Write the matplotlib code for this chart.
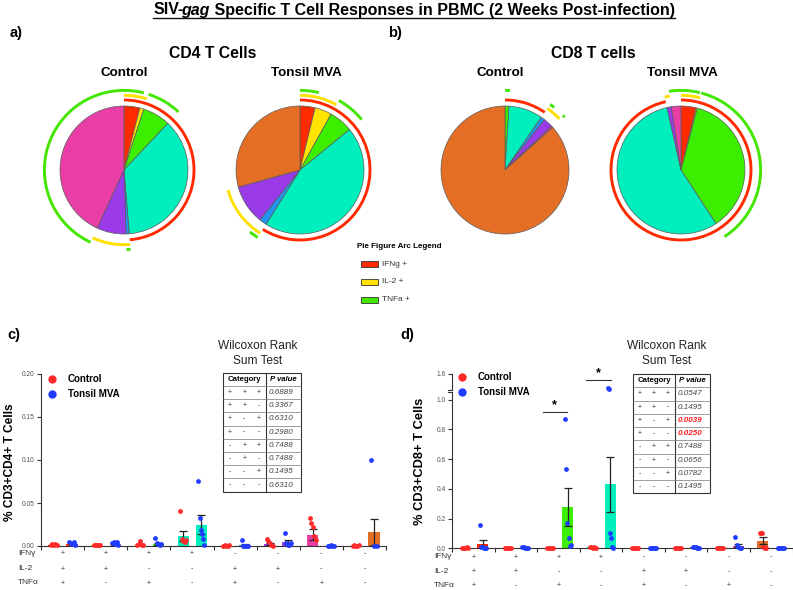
import numpy as np
import matplotlib
matplotlib.use("Agg")
import matplotlib.pyplot as plt
from matplotlib.patches import Arc, Rectangle

plt.rcParams['font.family'] = ['Liberation Sans', 'DejaVu Sans']

W, H = 793, 590

# cytokine categories (order used by pies, bars and tables)
ifng = ["+", "+", "+", "+", "-", "-", "-", "-"]
il2 = ["+", "+", "-", "-", "+", "+", "-", "-"]
tnfa = ["+", "-", "+", "-", "+", "-", "+", "-"]
cat_colors = ["#ff2a00", "#ffe400", "#3cee00", "#00efbc", "#2196f0", "#9a3ae8", "#e83ea6", "#e56e25"]

# pie fractions (% of response)
cd4_control = [4.0, 1.0, 7.0, 36.7, 0.8, 7.4, 43.1, 0.0]
cd4_tonsil = [3.8, 4.3, 6.0, 44.8, 1.9, 9.9, 0.0, 29.3]
cd8_control = [0.0, 0.0, 1.0, 8.6, 1.0, 2.4, 0.4, 86.6]
cd8_tonsil = [3.8, 0.3, 36.7, 55.7, 0.0, 1.1, 2.4, 0.0]

arc_colors = ["#ff2a00", "#ffe000", "#44e600"]
arc_labels = ["IFNg +", "IL-2 +", "TNFa +"]

# panel c: CD4 (% CD3+CD4+)
c_ctrl_mean = [0.0015, 0.0010, 0.0015, 0.0112, 0.0005, 0.0020, 0.0132, 0.0005]
c_ctrl_sem = [0.0003, 0.0002, 0.0008, 0.0057, 0.0002, 0.0012, 0.0060, 0.0002]
c_tons_mean = [0.0025, 0.0020, 0.0025, 0.0250, 0.0010, 0.0047, 0.0005, 0.0163]
c_tons_sem = [0.0007, 0.0008, 0.0015, 0.0105, 0.0008, 0.0028, 0.0002, 0.0150]
c_ctrl_pts = [
    [0.001, 0.002, 0.0015, 0.002, 0.001],
    [0.001, 0.0012, 0.0008, 0.001, 0.0012],
    [0.001, 0.002, 0.0055, 0.0015, 0.0008],
    [0.041, 0.0085, 0.006, 0.005, 0.007],
    [0.0005, 0.0006, 0.0004, 0.0005, 0.0006],
    [0.0085, 0.006, 0.003, 0.001, 0.0005],
    [0.033, 0.027, 0.022, 0.012, 0.0074],
    [0.0005, 0.0006, 0.0004, 0.0005, 0.0006],
]
c_tons_pts = [
    [0.0047, 0.003, 0.002, 0.0045, 0.001],
    [0.004, 0.0045, 0.002, 0.005, 0.001],
    [0.009, 0.003, 0.002, 0.001, 0.002],
    [0.076, 0.032, 0.019, 0.014, 0.0085, 0.001],
    [0.0066, 0.0005, 0.0005, 0.0004, 0.0005],
    [0.0155, 0.003, 0.0015, 0.001, 0.003],
    [0.0005, 0.0004, 0.0006, 0.0005, 0.0005],
    [0.0996, 0.0005, 0.0005],
]
c_pvals = ["0.6889", "0.3367", "0.6310", "0.2980", "0.7488", "0.7488", "0.1495", "0.6310"]

# panel d: CD8 (% CD3+CD8+)
d_ctrl_mean = [0.004, 0.003, 0.003, 0.008, 0.002, 0.002, 0.002, 0.050]
d_ctrl_sem = [0.001, 0.001, 0.001, 0.003, 0.0005, 0.0005, 0.0005, 0.024]
d_tons_mean = [0.027, 0.006, 0.280, 0.430, 0.002, 0.006, 0.018, 0.002]
d_tons_sem = [0.028, 0.003, 0.127, 0.185, 0.0005, 0.003, 0.012, 0.0005]
d_ctrl_pts = [
    [0.003, 0.005, 0.004, 0.006, 0.002],
    [0.002, 0.003, 0.004, 0.002, 0.003],
    [0.002, 0.003, 0.004, 0.002, 0.003],
    [0.011, 0.012, 0.005, 0.008, 0.004],
    [0.002, 0.002, 0.003, 0.002, 0.001],
    [0.002, 0.002, 0.003, 0.002, 0.001],
    [0.002, 0.002, 0.003, 0.002, 0.001],
    [0.1, 0.1, 0.1, 0.011, 0.005, 0.005],
]
d_tons_pts = [
    [0.157, 0.01, 0.006, 0.004, 0.003, 0.002],
    [0.011, 0.008, 0.005, 0.003, 0.002],
    [0.872, 0.537, 0.168, 0.067, 0.016, 0.02],
    [1.17, 1.12, 0.105, 0.067, 0.011, 0.005],
    [0.002, 0.002, 0.003, 0.002, 0.001],
    [0.012, 0.01, 0.006, 0.003, 0.002],
    [0.074, 0.022, 0.012, 0.005, 0.003],
    [0.002, 0.002, 0.003, 0.002, 0.001],
]
d_pvals = ["0.0547", "0.1495", "0.0039", "0.0250", "0.7488", "0.0656", "0.0782", "0.1495"]

fig = plt.figure(figsize=(W / 100, H / 100), dpi=100)


def px_axes(x0, y0, x1, y1):
    return fig.add_axes([x0 / W, 1 - y1 / H, (x1 - x0) / W, (y1 - y0) / H])


def draw_pie(cx, cy, fracs):
    ax = px_axes(cx - 90, cy - 90, cx + 90, cy + 90)
    keep = [i for i, f in enumerate(fracs) if f > 0]
    ax.pie([fracs[i] for i in keep], colors=[cat_colors[i] for i in keep], radius=64,
           startangle=90, counterclock=False,
           wedgeprops=dict(edgecolor="#5a5a5a", linewidth=0.5))
    ax.set_xlim(-90, 90)
    ax.set_ylim(-90, 90)
    ax.set_aspect("equal")
    ax.axis("off")
    cum = np.concatenate([[0], np.cumsum(fracs)]) / np.sum(fracs) * 360
    for ring, signs in enumerate([ifng, il2, tnfa]):
        r = [70, 74.7, 79.6][ring]
        segs = []
        for i in range(8):
            if signs[i] == "+" and fracs[i] > 0:
                if segs and abs(segs[-1][1] - cum[i]) < 1e-6:
                    segs[-1][1] = cum[i + 1]
                else:
                    segs.append([cum[i], cum[i + 1]])
        for t1, t2 in segs:
            if t2 - t1 < 1.8:
                mid = (t1 + t2) / 2
                t1, t2 = mid - 0.9, mid + 0.9
            ax.add_patch(Arc((0, 0), 2 * r, 2 * r, theta1=90 - t2, theta2=90 - t1,
                             color=arc_colors[ring], lw=2.1))


draw_pie(124, 170, cd4_control)
draw_pie(300, 170, cd4_tonsil)
draw_pie(505, 170, cd8_control)
draw_pie(681, 170, cd8_tonsil)


def style_axis(ax):
    for s in ["top", "right"]:
        ax.spines[s].set_visible(False)
    for s in ["left", "bottom"]:
        ax.spines[s].set_color("#333333")
        ax.spines[s].set_linewidth(0.8)
    ax.tick_params(axis="y", length=3, width=0.8, color="#333333", labelsize=4.8,
                   labelcolor="#5a5048", pad=1.5)
    ax.tick_params(axis="x", length=3, width=0.8, color="#333333", labelbottom=False)
    ax.set_xlim(0, 8)
    ax.set_xticks(range(9))
    ax.patch.set_visible(False)


def draw_bars(ax, cm, cs, tm, ts, cp, tp, ylim):
    xs = np.arange(8)
    xc, xt = xs + 0.30, xs + 0.72
    ax.bar(xc, cm, width=0.26, color=cat_colors, zorder=2)
    ax.bar(xt, tm, width=0.26, color=cat_colors, zorder=2)
    for x, m, s in [(xc, cm, cs), (xt, tm, ts)]:
        ax.errorbar(x, m, yerr=s, fmt="none", ecolor="#222222", elinewidth=0.9,
                    capsize=3.2, capthick=0.9, zorder=3)
    for x, pts_list, col in [(xc, cp, "#ff2b2b"), (xt, tp, "#1f3cff")]:
        for i, pts in enumerate(pts_list):
            pts = np.array(pts)
            off = np.linspace(-0.07, 0.07, len(pts))
            sel = (pts >= ylim[0]) & (pts <= ylim[1])
            ax.scatter(x[i] + off[sel], pts[sel], s=12, color=col, lw=0, zorder=4, clip_on=False)


# panel c
axc = px_axes(41, 374, 386, 546)
draw_bars(axc, c_ctrl_mean, c_ctrl_sem, c_tons_mean, c_tons_sem, c_ctrl_pts, c_tons_pts, (0, 0.2))
axc.set_ylim(0, 0.2)
axc.set_yticks(np.arange(0, 0.201, 0.05))
axc.set_yticklabels([f"{v:.2f}" for v in np.arange(0, 0.201, 0.05)])
style_axis(axc)

# panel d (broken y axis)
axd = px_axes(452.3, 392.3, 792.5, 548.3)
draw_bars(axd, d_ctrl_mean, d_ctrl_sem, d_tons_mean, d_tons_sem, d_ctrl_pts, d_tons_pts, (0, 1.05))
axd.set_ylim(0, 1.05)
axd.set_yticks(np.arange(0, 1.01, 0.2))
axd.set_yticklabels([f"{v:.1f}" for v in np.arange(0, 1.01, 0.2)])
style_axis(axd)
axd.plot([-0.012, 0], [1, 1], transform=axd.transAxes, color="#333333", lw=0.8, clip_on=False)

axd2 = px_axes(452.3, 374, 792.5, 390)
draw_bars(axd2, d_ctrl_mean, d_ctrl_sem, d_tons_mean, d_tons_sem, d_ctrl_pts, d_tons_pts, (1.1, 1.6))
axd2.set_ylim(1.1, 1.6)
axd2.set_yticks([1.6])
axd2.set_yticklabels(["1.6"])
style_axis(axd2)
axd2.spines["bottom"].set_visible(False)
axd2.tick_params(axis="x", length=0)
axd2.plot([-0.012, 0], [0, 0], transform=axd2.transAxes, color="#333333", lw=0.8, clip_on=False)

# significance
axd.plot([2.125, 2.69], [0.92, 0.92], color="#333333", lw=0.8)
axd.text(2.41, 0.925, "*", ha="center", va="bottom", fontsize=9, fontweight="bold")
axd2.plot([3.14, 3.73], [1.41, 1.41], color="#333333", lw=0.8, clip_on=False)
axd2.text(3.43, 1.43, "*", ha="center", va="bottom", fontsize=9, fontweight="bold", clip_on=False)

# x-axis sign rows
for ax, lx, rows in [(axc, 18, [553.5, 569, 583]), (axd, 434, [557, 571.7, 585.7])]:
    x0p, y0p = ax.transAxes.transform((0, 0))
    _, y1p = ax.transAxes.transform((0, 1))
    for name, signs, yp in zip(["IFN\u03b3", "IL-2", "TNF\u03b1"], [ifng, il2, tnfa], rows):
        ya = ((H - yp) - y0p) / (y1p - y0p)
        fig.text(lx / W, 1 - yp / H, name, fontsize=6, color="#333333", va="center", ha="left")
        for i, s in enumerate(signs):
            ax.text(i + 0.5, ya, s, transform=ax.get_xaxis_transform(), fontsize=5,
                    ha="center", va="center", color="#333333", clip_on=False)

# overlay in pixel coords for titles, legends and tables
ov = fig.add_axes([0, 0, 1, 1])
ov.set_xlim(0, W)
ov.set_ylim(H, 0)
ov.axis("off")

ov.text(10, 33, "a)", fontsize=10.5, fontweight="bold", va="center")
ov.text(388, 33, "b)", fontsize=10.5, fontweight="bold", va="center")
ov.text(7, 335, "c)", fontsize=10.5, fontweight="bold", va="center")
ov.text(400, 335, "d)", fontsize=10.5, fontweight="bold", va="center")

ov.text(213, 53, "CD4 T Cells", fontsize=11.3, fontweight="bold", ha="center", va="center")
ov.text(593, 53, "CD8 T cells", fontsize=11.3, fontweight="bold", ha="center", va="center")
for x, lab in [(124, "Control"), (306, "Tonsil MVA"), (500, "Control"), (682, "Tonsil MVA")]:
    ov.text(x, 73, lab, fontsize=9.6, fontweight="bold", ha="center", va="center")

# pie arc legend
ov.text(357, 247, "Pie Figure Arc Legend", fontsize=5.8, fontweight="bold", va="center")
for k, (col, lab) in enumerate(zip(arc_colors, arc_labels)):
    y = 264 + k * 17.8
    ov.add_patch(Rectangle((360.5, y - 3), 17, 6, facecolor=col, edgecolor="#333333", lw=0.6))
    ov.text(382, y, lab, fontsize=6, va="center", color="#333333")

# bar legends
for lx, ly in [(52, 379.3), (462, 377)]:
    ov.plot([lx], [ly], "o", ms=6, color="#ff2b2b", mec="none")
    ov.plot([lx], [ly + 15], "o", ms=6, color="#1f3cff", mec="none")
    ov.text(lx + 15.5, ly, "Control", fontsize=7, fontweight="bold", va="center")
    ov.text(lx + 15.5, ly + 15, "Tonsil MVA", fontsize=7, fontweight="bold", va="center")

# y labels
ov.text(10, 462, "% CD3+CD4+ T Cells", fontsize=8.6, fontweight="bold", rotation=90,
        ha="center", va="center")
ov.text(420, 461, "% CD3+CD8+ T Cells", fontsize=9.3, fontweight="bold", rotation=90,
        ha="center", va="center")


def draw_table(x0, xs, x1, y0, y1, cx, pvals):
    ov.text(cx, 346, "Wilcoxon Rank", fontsize=8.6, ha="center", va="center", color="#222222")
    ov.text(cx, 360.5, "Sum Test", fontsize=8.6, ha="center", va="center", color="#222222")
    rh = (y1 - y0) / 9
    ov.add_patch(Rectangle((x0, y0), x1 - x0, y1 - y0, fill=False, lw=0.8, ec="#333333"))
    ov.plot([xs, xs], [y0, y1], color="#333333", lw=0.8)
    for i in range(1, 9):
        ov.plot([x0, x1], [y0 + i * rh] * 2, color="#777777", lw=0.5)
    ov.text((x0 + xs) / 2, y0 + rh / 2, "Category", fontsize=5.6, fontweight="bold",
            ha="center", va="center")
    ov.text((xs + x1) / 2, y0 + rh / 2, "P value", fontsize=5.6, fontweight="bold",
            style="italic", ha="center", va="center")
    cw = (xs - x0) / 3
    for i in range(8):
        yc = y0 + (i + 1.5) * rh
        for j, s in enumerate([ifng[i], il2[i], tnfa[i]]):
            ov.text(x0 + cw * (j + 0.5), yc, s, fontsize=5, ha="center", va="center",
                    color="#333333")
        sig = float(pvals[i]) < 0.05
        ov.text(xs + 2.5, yc, pvals[i], fontsize=5.8, style="italic", va="center",
                color="#ff1a1a" if sig else "#444444", fontweight="bold" if sig else "normal")


draw_table(223, 265.7, 300.7, 372.7, 491.7, 257.5, c_pvals)
draw_table(632.7, 675.3, 710, 374, 493.3, 667, d_pvals)

# title with italic gene name and underline
r = fig.canvas.get_renderer()
pieces = [("SIV-", "normal", -2.0), ("gag", "italic", 0.0),
          (" Specific T Cell Responses in PBMC (2 Weeks Post-infection)", "normal", 0.0)]
texts = [ov.text(0, 10, s, fontsize=11.5, fontweight="bold", style=st, va="center")
         for s, st, _ in pieces]
widths = [t.get_window_extent(r).width + adj for t, (_, _, adj) in zip(texts, pieces)]
x = 414 - sum(widths) / 2
for t, w in zip(texts, widths):
    t.set_x(x)
    x += w
ov.plot([414 - sum(widths) / 2, 414 + sum(widths) / 2], [17.5, 17.5], color="#111111", lw=1)

fig.savefig("out.png", dpi=100)
